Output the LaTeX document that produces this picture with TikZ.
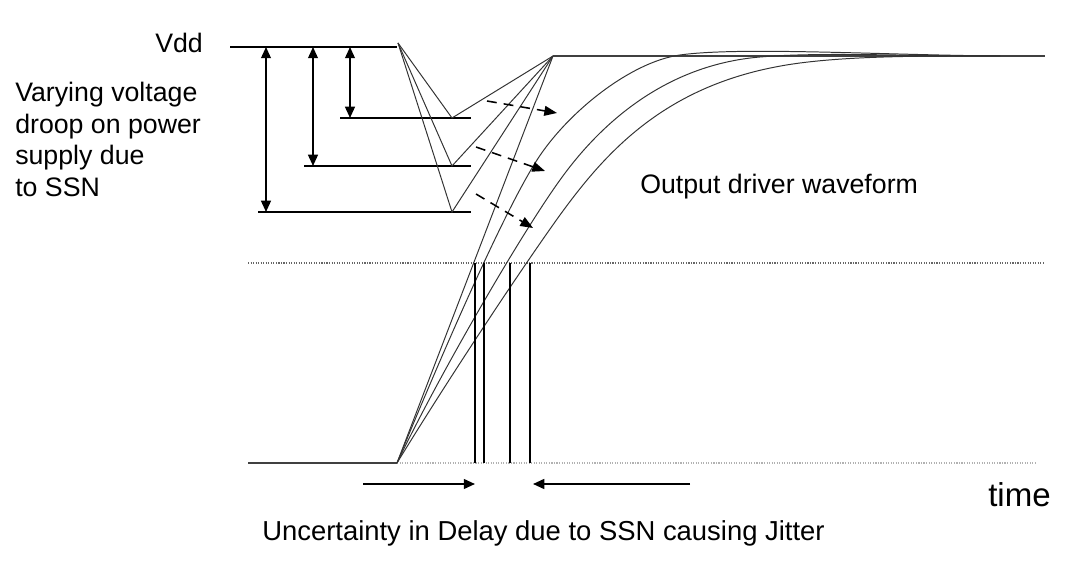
\documentclass[tikz,border=0pt]{standalone}
\usepackage{fontspec}
\setmainfont{Liberation Sans}
\usetikzlibrary{arrows.meta}

\begin{document}
\begin{tikzpicture}[x=0.025cm,y=-0.025cm,inner sep=0pt]
\useasboundingbox (0,0) rectangle (1080,563);
\coordinate (vddL) at (230,47);
\coordinate (droop) at (398,43);
\coordinate (start) at (397,463);
\coordinate (apex) at (553,56);
% supply level and droop
\draw[line width=1.4pt] (vddL)--(397,47);
\foreach \a/\y in {340/118,304/166,258/212}
\draw[line width=1.4pt] (\a,\y)--(471,\y);
\foreach \x/\y in {350/118,313/166,266/212}
\draw[line width=1.1pt,{Triangle[length=8pt,width=7pt]}-{Triangle[length=8pt,width=7pt]}] (\x,47)--(\x,\y);
\foreach \y in {118,166,212}
\draw[line width=0.7pt,black!80] (droop)--(452,\y)--(apex);
% levels
\draw[line width=0.8pt,black!75] (apex)--(1045,56);
\draw[line width=0.9pt,black!75] (248,463)--(start);
\draw[densely dotted,line width=0.8pt,gray!60] (start)--(1035,463);
\draw[densely dotted,line width=0.8pt,black!60] (248,263)--(1045,263);
% waveforms
\draw[line width=0.7pt,black!80] (start)--(apex);
\draw[line width=0.7pt,black!80] (start) .. controls (434,373) and (501,216) .. (537,160)
  .. controls (567,113) and (630,62) .. (680,55)
  .. controls (740,46.6) and (880,55) .. (1000,56);
\draw[line width=0.7pt,black!80] (start) .. controls (440,373) and (523,231) .. (560,180)
  .. controls (600,124) and (665,65) .. (760,57)
  .. controls (820,52) and (900,56) .. (1000,56);
\draw[line width=0.7pt,black!80] (start) .. controls (452,373) and (524,265) .. (560,215)
  .. controls (608,149) and (670,80) .. (800,63)
  .. controls (860,55.2) and (940,56) .. (1000,56);
\foreach \x in {475,484,510,530}
\draw[line width=1.2pt] (\x,263)--(\x,463);
% shift arrows
\foreach \a/\b/\c/\d in {487/101/557/113,476/147/545/171,476/194/533/228}
\draw[line width=1.1pt,dash pattern=on 7pt off 5pt,-{Triangle[length=9pt,width=7pt]}] (\a,\b)--(\c,\d);
\draw[line width=1.3pt,-{Triangle[length=8pt,width=7pt]}] (363,484)--(475,484);
\draw[line width=1.3pt,-{Triangle[length=8pt,width=7pt]}] (690,484)--(533,484);
% labels
\node[anchor=base west,font=\fontsize{19}{22}\selectfont] (vdd) at (155,53) {Vdd};
\foreach \t [count=\i] in {Varying voltage,droop on power,supply due,to SSN}
\node[anchor=base west,font=\fontsize{19}{22}\selectfont] at (15,{102+31.5*(\i-1)}) {\t};
\node[anchor=base west,font=\fontsize{19}{22}\selectfont] (out) at (640,194) {Output driver waveform};
\node[anchor=base west,font=\fontsize{23.5}{26}\selectfont] (time) at (988,507) {time};
\node[anchor=base west,font=\fontsize{19.5}{22}\selectfont] (jit) at (262,540) {Uncertainty in Delay due to SSN causing Jitter};
\end{tikzpicture}
\end{document}
